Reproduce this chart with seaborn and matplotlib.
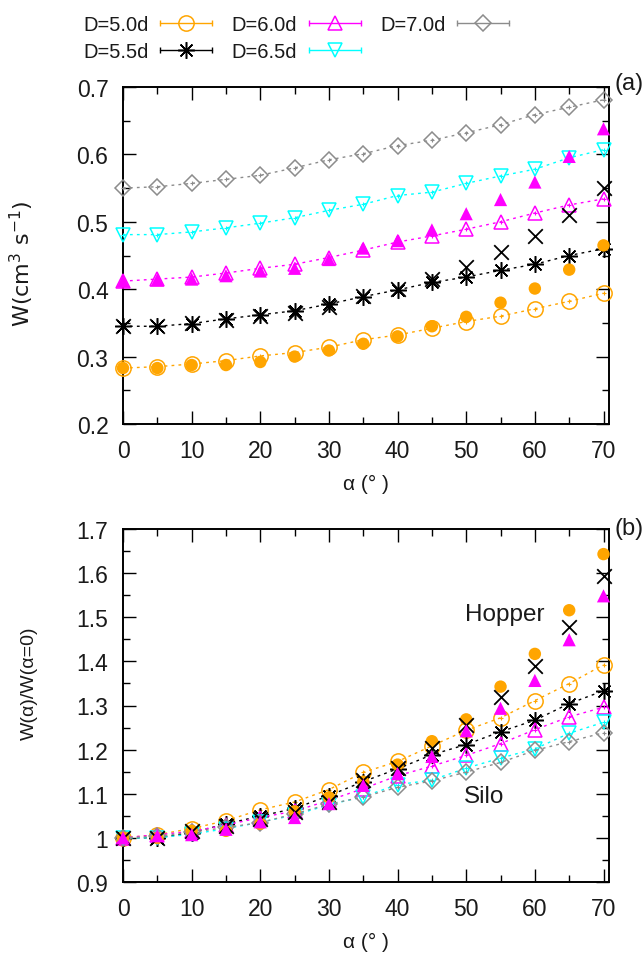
import numpy as np
import pandas as pd
import seaborn as sns
import matplotlib
matplotlib.use("Agg")
import matplotlib.pyplot as plt
from matplotlib.lines import Line2D
from matplotlib.legend_handler import HandlerBase
from matplotlib.ticker import MultipleLocator, FormatStrFormatter

# ---------------- data ----------------
alpha = [0, 5, 10, 15, 20, 25, 30, 35, 40, 45, 50, 55, 60, 65, 70]

# silo (open symbols)
w_50 = [0.283, 0.285, 0.289, 0.294, 0.301, 0.306, 0.314, 0.325, 0.332, 0.342, 0.352, 0.360, 0.371, 0.382, 0.394]
w_55 = [0.345, 0.345, 0.349, 0.356, 0.362, 0.368, 0.378, 0.389, 0.399, 0.410, 0.418, 0.428, 0.437, 0.450, 0.460]
w_60 = [0.412, 0.415, 0.418, 0.424, 0.431, 0.437, 0.447, 0.458, 0.470, 0.479, 0.489, 0.500, 0.513, 0.525, 0.534]
w_65 = [0.481, 0.481, 0.485, 0.491, 0.498, 0.506, 0.517, 0.526, 0.539, 0.544, 0.557, 0.568, 0.578, 0.595, 0.607]
w_70 = [0.550, 0.552, 0.557, 0.563, 0.569, 0.580, 0.592, 0.601, 0.613, 0.621, 0.632, 0.644, 0.659, 0.670, 0.681]

# hopper (filled symbols)
h_50 = [0.283, 0.283, 0.2875, 0.2875, 0.292, 0.300, 0.309, 0.319, 0.330, 0.345, 0.359, 0.380, 0.401, 0.429, 0.465]
h_55 = [0.345, 0.345, 0.350, 0.354, 0.360, 0.365, 0.373, 0.390, 0.400, 0.415, 0.433, 0.455, 0.479, 0.510, 0.550]
h_60 = [0.412, 0.414, 0.415, 0.420, 0.427, 0.431, 0.444, 0.461, 0.472, 0.488, 0.512, 0.533, 0.559, 0.597, 0.638]

labels = ["D=5.0d", "D=5.5d", "D=6.0d", "D=6.5d", "D=7.0d"]
silo_series = [w_50, w_55, w_60, w_65, w_70]
hopper_series = [h_50, h_55, h_60]

# ---------------- styles ----------------
colors = ["#FFA500", "#000000", "#FF00FF", "#00FFFF", "#8C8C8C"]
markers = ["o", (8, 2, 0), "^", "v", "D"]
msizes = [11, 12, 10.5, 10.5, 8.5]
hop_markers = ["o", "x", "^"]
hop_sizes = [80, 110, 90]

sns.set_theme(style="ticks")
plt.rcParams["font.family"] = ["Liberation Sans", "DejaVu Sans"]
plt.rcParams["mathtext.default"] = "regular"
TXT = "#1a1a1a"

fig = plt.figure(figsize=(6.44, 9.62), dpi=100)
ax1 = fig.add_axes([123 / 644, 1 - 425 / 962, 486 / 644, 337 / 962])
ax2 = fig.add_axes([123 / 644, 1 - 883 / 962, 486 / 644, 353 / 962])


def draw(ax, silo, hopper):
    for vals, c, m, ms in zip(silo, colors, markers, msizes):
        df = pd.DataFrame({"a": alpha, "w": vals})
        sns.lineplot(data=df, x="a", y="w", ax=ax, color=c, linestyle=(0, (2, 3)),
                     linewidth=1.0, marker=m, markersize=ms, markerfacecolor="none",
                     markeredgecolor=c, markeredgewidth=1.1, clip_on=False, zorder=3)
        ax.plot(df["a"], df["w"], linestyle="none", marker="+", ms=3, mew=0.8,
                color=c, clip_on=False, zorder=3)
    for vals, c, m, s in zip(hopper, colors[:3], hop_markers, hop_sizes):
        df = pd.DataFrame({"a": alpha, "w": vals})
        if m == "x":
            sns.scatterplot(data=df, x="a", y="w", ax=ax, color=c, marker=m, s=s,
                            linewidth=1.3, clip_on=False, zorder=4)
        else:
            sns.scatterplot(data=df, x="a", y="w", ax=ax, color=c, marker=m, s=s,
                            edgecolor="none", clip_on=False, zorder=4)


draw(ax1, silo_series, hopper_series)
silo_ratio = [[v / s[0] for v in s] for s in silo_series]
hop_ratio = [[v / s[0] for v in s] for s in hopper_series]
draw(ax2, silo_ratio, hop_ratio)

for ax in (ax1, ax2):
    ax.set_xlim(0, 70.8)
    ax.xaxis.set_major_locator(MultipleLocator(10))
    ax.xaxis.set_minor_locator(MultipleLocator(5))
    ax.yaxis.set_major_locator(MultipleLocator(0.1))
    ax.yaxis.set_minor_locator(MultipleLocator(0.05))
    ax.yaxis.set_major_formatter(FormatStrFormatter("%g"))
    ax.tick_params(which="both", direction="in", top=True, right=True, color="black",
                   width=1.0, labelsize=16.5, labelcolor=TXT)
    ax.tick_params(which="major", length=9.5, pad=10.5)
    ax.tick_params(which="minor", length=5)
    for sp in ax.spines.values():
        sp.set_linewidth(1.4)
        sp.set_color("black")
    ax.set_xlabel("α (° )", fontsize=15, color=TXT, labelpad=9)

ax1.set_ylim(0.2, 0.7)
ax2.set_ylim(0.9, 1.7)
ax1.set_ylabel("W(cm$^3$ s$^{-1}$)", fontsize=16, color=TXT, family="DejaVu Sans")
ax2.set_ylabel("W(α)/W(α=0)", fontsize=14, color=TXT)
ax1.yaxis.set_label_coords(-0.178, 0.478)
ax2.yaxis.set_label_coords(-0.175, 0.567)

ax1.text(1.012, 1.012, "(a)", transform=ax1.transAxes, fontsize=17, color=TXT,
         ha="left", va="center")
ax2.text(1.012, 1.003, "(b)", transform=ax2.transAxes, fontsize=17, color=TXT,
         ha="left", va="center")
ax2.text(49.8, 1.494, "Hopper", fontsize=17.5, color=TXT, ha="left", va="baseline")
ax2.text(49.7, 1.082, "Silo", fontsize=17.5, color=TXT, ha="left", va="baseline")


# ---------------- legend ----------------
class CapHandler(HandlerBase):
    def create_artists(self, legend, orig, xdescent, ydescent, width, height,
                       fontsize, trans):
        y = height / 2 - ydescent
        x0, x1 = -xdescent, width - xdescent
        c = orig.get_color()
        line = Line2D([x0, x1], [y, y], color=c, lw=1.0)
        caps = Line2D([x0, x1], [y, y], ls="none", marker="|", ms=5, mew=1.0, color=c)
        mk = Line2D([(x0 + x1) / 2], [y], ls="none", marker=orig.get_marker(),
                    ms=orig.get_markersize(), mfc="none", mec=c, mew=1.1)
        for a in (line, caps, mk):
            a.set_transform(trans)
        return [line, caps, mk]


handles = [Line2D([], [], color=c, marker=m, ms=ms) for c, m, ms in zip(colors, markers, msizes)]
fig.legend(handles, labels, handler_map={Line2D: CapHandler()}, loc="upper left",
           bbox_to_anchor=(83 / 644, 1 - 16 / 962), ncol=3, frameon=False,
           markerfirst=False, fontsize=14.5, handlelength=2.58, handletextpad=0.57,
           columnspacing=0.99, labelspacing=0.42, borderpad=0, borderaxespad=0,
           labelcolor=TXT)

fig.savefig("out.png", dpi=100)
